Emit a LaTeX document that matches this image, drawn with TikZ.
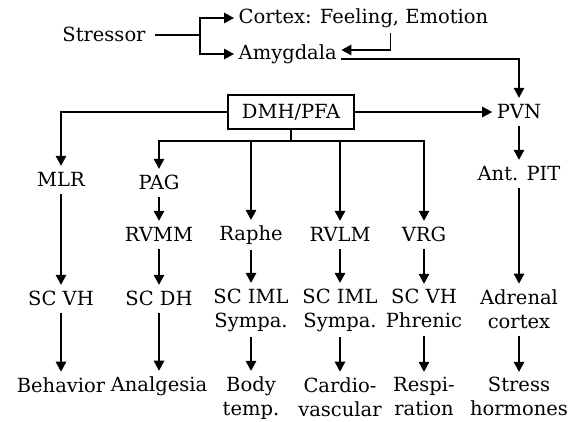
\documentclass[tikz,border=0pt]{standalone}
\usepackage{fontspec}
\setmainfont{DejaVu Serif}
\usetikzlibrary{arrows.meta}

\newcommand{\strt}{\rule[-2.5pt]{0pt}{17pt}}

\tikzset{
  lbl/.style={inner xsep=4pt, inner ysep=5pt, align=center,
    font=\fontsize{19.5}{24}\selectfont, execute at begin node=\strt},
  arr/.style={-{Triangle[length=10pt,width=10.5pt]}},
}

\begin{document}
\begin{tikzpicture}[x=1pt, y=-1pt, line width=1.4pt]
\useasboundingbox (0,0) rectangle (573,421);

\def\yc{18}; % cortex
\def\ys{35}; % stressor
\def\yam{54}; % amygdala
\def\yd{112}; % DMH/PFA and PVN
\def\yfan{141}; % fan out line
\def\ym{180}; % MLR
\def\yp{183}; % PAG
\def\yap{174}; % Ant. PIT
\def\yr{235}; % medulla row
\def\ysc{299}; % spinal row, one line
\def\yscc{310}; % spinal row, two lines
\def\yo{386}; % outputs, one line
\def\yoo{398}; % outputs, two lines

\def\xa{61};
\def\xb{159};
\def\xc{251};
\def\xd{340};
\def\xe{424};
\def\xf{519};

\node[lbl] (stressor) at (104, \ys) {Stressor};
\node[lbl, anchor=west] (cortex) at (234, \yc) {Cortex: Feeling, Emotion};
\node[lbl, anchor=west] (amyg) at (234, \yam) {Amygdala};
\node[lbl, draw, minimum width=126pt, minimum height=34pt] (dmh) at (291, \yd) {DMH/PFA};
\node[lbl] (pvn) at (\xf, \yd) {PVN};

\node[lbl] (mlr) at (\xa, \ym) {MLR};
\node[lbl] (pag) at (\xb, \yp) {PAG};
\node[lbl] (antpit) at (\xf, \yap) {Ant. PIT};

\node[lbl] (rvmm) at (\xb, \yr) {RVMM};
\node[lbl] (raphe) at (\xc, \yr) {Raphe};
\node[lbl] (rvlm) at (\xd, \yr) {RVLM};
\node[lbl] (vrg) at (\xe, \yr) {VRG};

\node[lbl] (scvh) at (\xa, \ysc) {SC VH};
\node[lbl] (scdh) at (\xb, \ysc) {SC DH};
\node[lbl] (imlb) at (\xc, \yscc) {SC IML\\\strt Sympa.};
\node[lbl] (imlc) at (\xd, \yscc) {SC IML\\\strt Sympa.};
\node[lbl] (phren) at (\xe, \yscc) {SC VH\\\strt Phrenic};
\node[lbl] (adren) at (\xf, \yscc) {Adrenal\\\strt cortex};

\node[lbl] (behav) at (\xa, \yo) {Behavior};
\node[lbl] (analg) at (\xb, \yo) {Analgesia};
\node[lbl] (temp) at (\xc, \yoo) {Body\\\strt temp.};
\node[lbl] (cardio) at (\xd, \yoo) {Cardio-\\\strt vascular};
\node[lbl] (resp) at (\xe, \yoo) {Respi-\\\strt ration};
\node[lbl] (horm) at (\xf, \yoo) {Stress\\\strt hormones};

\coordinate (split) at (200, \ys);
\coordinate (fan) at (291, \yfan);

\draw ([xshift=5pt]stressor.east) -- (split);
\draw[arr] (split) |- (cortex.west);
\draw[arr] (split) |- (amyg.west);
\draw[arr] ([xshift=27pt]cortex.south) |- ([yshift=4pt]amyg.east);
\draw[arr] ([yshift=-5pt]amyg.east) -| (pvn.north);

\draw[arr] (dmh.east) -- (pvn.west);
\draw[arr] (dmh.west) -| (mlr.north);
\draw (dmh.south) -- (fan);
\foreach \n in {pag, raphe, rvlm, vrg}
  \draw[arr] (fan) -| (\n.north);

\foreach \a/\b in {pvn/antpit, antpit/adren, adren/horm,
    mlr/scvh, scvh/behav, pag/rvmm, rvmm/scdh, scdh/analg,
    raphe/imlb, imlb/temp, rvlm/imlc, imlc/cardio, vrg/phren, phren/resp}
  \draw[arr] (\a) -- (\b);

\end{tikzpicture}
\end{document}
